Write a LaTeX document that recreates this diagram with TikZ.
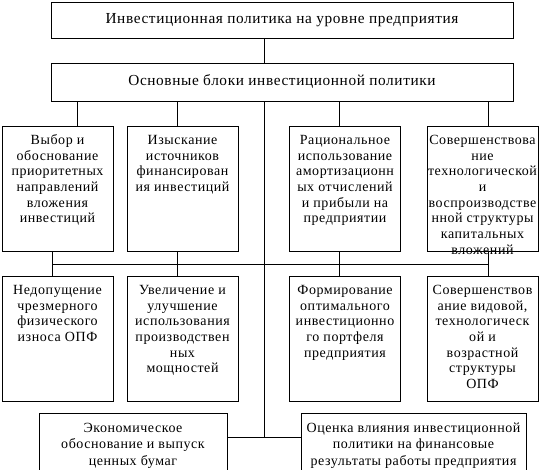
\documentclass[tikz,border=0pt]{standalone}
\usepackage{fontspec}
\setmainfont{Liberation Serif}[LetterSpace=4]
\usetikzlibrary{positioning}

\newcommand{\blocktext}[1]{\parbox[t][111pt][t]{131pt}{\centering\strut #1}}
\newcommand{\widetext}[2]{\parbox[t][50pt][t]{#1}{\centering\strut #2}}

\begin{document}
\begin{tikzpicture}[x=1pt, y=-1pt, line width=0.9pt, node distance=150pt, on grid,
    head/.style={draw, minimum width=462pt, font=\fontsize{15.3}{18}\selectfont},
    cell/.style={draw, anchor=north, inner xsep=-10pt, inner ysep=7pt, font=\fontsize{14}{15.7}\selectfont}]
  \fill[white] (0,0) rectangle (553,470);
  \useasboundingbox (0,0) rectangle (553,470);
  \clip (0,0) rectangle (553,470);
  \node[head, minimum height=36pt] (top) at (282,20) {Инвестиционная политика на уровне предприятия};
  \node[head, minimum height=38pt] (blocks) [below=62pt of top] {Основные блоки инвестиционной политики};

  \node[cell] (choice) at (57.5,126) {\blocktext{Выбор и\\ обоснование\\ приоритетных\\ направлений\\ вложения\\ инвестиций}};
  \node[cell] (sources) at (182.5,126) {\blocktext{Изыскание\\ источников\\ финансирован\\ ия инвестиций}};
  \node[cell] (amort) at (345,126) {\blocktext{Рациональное\\ использование\\ амортизационн\\ ых отчислений\\ и прибыли на\\ предприятии}};
  \node[cell] (techn) at (482.5,126) {\blocktext{Совершенствова\\ ние\\ технологической\\ и\\ воспроизводстве\\ нной структуры\\ капитальных\\ вложений}};

  \node[cell] (wear) [below=of choice] {\blocktext{Недопущение\\ чрезмерного\\ физического\\ износа ОПФ}};
  \node[cell] (capacity) [below=of sources] {\blocktext{Увеличение и\\ улучшение\\ использования\\ производствен\\ ных\\ мощностей}};
  \node[cell] (portfolio) [below=of amort] {\blocktext{Формирование\\ оптимального\\ инвестиционно\\ го портфеля\\ предприятия}};
  \node[cell] (structure) [below=of techn] {\blocktext{Совершенствов\\ ание видовой,\\ технологическ\\ ой и\\ возрастной\\ структуры\\ ОПФ}};

  \node[cell, font=\fontsize{14}{16.5}\selectfont] (bonds) at (133,413) {\widetext{208pt}{Экономическое\\ обоснование и выпуск\\ ценных бумаг}};
  \node[cell, font=\fontsize{14}{16.5}\selectfont] (effect) at (413.5,413) {\widetext{245pt}{Оценка влияния инвестиционной\\ политики на финансовые\\ результаты работы предприятия}};

  \coordinate (spine) at (264,0);
  \coordinate (foot) at (0,437);
  \coordinate (b1) at (52,264);
  \coordinate (b2) at (488,264);

  \draw (top.south -| spine) -- (blocks.north -| spine);
  \draw (blocks.south -| spine) -- (spine |- foot);
  \draw (bonds.east |- foot) -- (effect.west |- foot);
  \foreach \x/\a in {77/choice, 177/sources, 339/amort, 488/techn}
    {\coordinate (k) at (\x,0); \draw (blocks.south -| k) -- (\a.north -| k);}
  \foreach \x/\a/\b in {52/choice/wear, 177/sources/capacity, 339/amort/portfolio, 488/techn/structure}
    {\coordinate (k) at (\x,0); \draw (\a.south -| k) -- (\b.north -| k);}
  \draw (b1) -- (b2);
\end{tikzpicture}
\end{document}
